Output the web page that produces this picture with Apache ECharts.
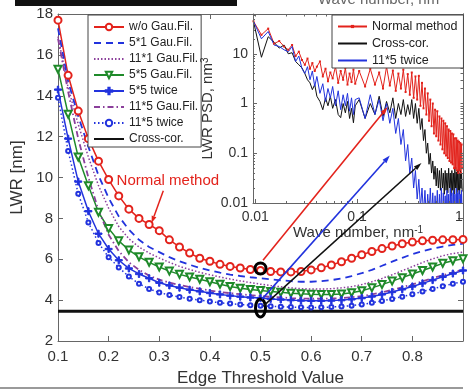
<!DOCTYPE html>
<html>
<head>
<meta charset="utf-8">
<script src="https://cdn.jsdelivr.net/npm/echarts@6/dist/echarts.min.js"></script>
<style>
html, body { margin: 0; padding: 0; background: #fff; }
#chart { width: 470px; height: 390px; }
</style>
</head>
<body>
<div id="chart"></div>
<script>
// main plot: LWR vs edge threshold
const threshold = [0.10, 0.12, 0.14, 0.16, 0.18, 0.20, 0.22, 0.24, 0.26, 0.28, 0.30, 0.32, 0.34, 0.36, 0.38, 0.40, 0.42, 0.44, 0.46, 0.48, 0.50,
  0.52, 0.54, 0.56, 0.58, 0.60, 0.62, 0.64, 0.66, 0.68, 0.70, 0.72, 0.74, 0.76, 0.78, 0.80, 0.82, 0.84, 0.86, 0.88, 0.90];
const woGau = [17.7, 15.0, 13.25, 11.9, 10.8, 9.9, 9.1, 8.45, 8.0, 7.7, 7.4, 6.95, 6.6, 6.3, 6.05, 5.9, 5.75, 5.65, 5.57, 5.5, 5.45,
  5.4, 5.38, 5.38, 5.4, 5.48, 5.58, 5.72, 5.88, 6.05, 6.22, 6.38, 6.52, 6.65, 6.76, 6.84, 6.9, 6.93, 6.95, 6.96, 6.97];
const gau5x1 = [17.3, 14.7, 13.0, 11.5, 10.1, 9.0, 8.1, 7.45, 6.95, 6.6, 6.35, 6.1, 5.9, 5.73, 5.58, 5.45, 5.34, 5.25, 5.18, 5.12, 5.07,
  5.02, 4.97, 4.93, 4.9, 4.9, 4.93, 4.98, 5.06, 5.18, 5.32, 5.48, 5.68, 5.88, 6.07, 6.25, 6.4, 6.52, 6.62, 6.7, 6.76];
const gau11x1 = [16.9, 14.4, 12.6, 11.0, 9.6, 8.5, 7.6, 7.0, 6.6, 6.3, 6.06, 5.85, 5.65, 5.5, 5.36, 5.24, 5.13, 5.03, 4.94, 4.86, 4.78,
  4.71, 4.65, 4.6, 4.56, 4.54, 4.54, 4.56, 4.6, 4.66, 4.76, 4.9, 5.06, 5.24, 5.44, 5.64, 5.84, 6.02, 6.17, 6.28, 6.35];
const gau5x5 = [15.3, 13.1, 11.0, 9.6, 8.3, 7.5, 6.9, 6.45, 6.12, 5.85, 5.62, 5.42, 5.26, 5.13, 5.02, 4.9, 4.78, 4.67, 4.58, 4.52, 4.47,
  4.42, 4.38, 4.34, 4.31, 4.29, 4.28, 4.28, 4.3, 4.36, 4.46, 4.6, 4.76, 4.93, 5.1, 5.28, 5.45, 5.62, 5.8, 5.93, 6.02];
const twice5x5 = [14.3, 11.9, 9.8, 8.35, 7.25, 6.5, 5.95, 5.55, 5.28, 5.07, 4.85, 4.72, 4.61, 4.51, 4.43, 4.35, 4.28, 4.22, 4.17, 4.13, 4.1,
  4.06, 4.03, 4.0, 3.98, 3.97, 3.97, 3.98, 4.0, 4.04, 4.1, 4.18, 4.28, 4.4, 4.53, 4.67, 4.82, 4.98, 5.14, 5.3, 5.45];
const gau11x5 = [16.8, 14.2, 11.9, 10.0, 8.4, 7.2, 6.4, 5.85, 5.48, 5.2, 5.0, 4.86, 4.74, 4.64, 4.55, 4.47, 4.4, 4.34, 4.29, 4.24, 4.2,
  4.16, 4.13, 4.1, 4.08, 4.07, 4.07, 4.08, 4.1, 4.14, 4.2, 4.28, 4.38, 4.5, 4.63, 4.77, 4.92, 5.07, 5.22, 5.36, 5.5];
const twice11x5 = [13.9, 11.3, 9.2, 7.8, 6.8, 6.1, 5.6, 5.15, 4.8, 4.55, 4.37, 4.25, 4.15, 4.07, 4.0, 3.93, 3.87, 3.83, 3.78, 3.75, 3.72,
  3.7, 3.68, 3.66, 3.65, 3.64, 3.65, 3.66, 3.69, 3.73, 3.79, 3.87, 3.96, 4.06, 4.17, 4.29, 4.42, 4.55, 4.68, 4.8, 4.9];
const crossCorX = [0.1, 0.9];
const crossCor = [3.45, 3.45];

// inset: LWR PSD vs wave number
const waveNumber = [0.0096, 0.0115, 0.0134, 0.0153, 0.0172, 0.0192, 0.0211, 0.023, 0.0249, 0.0268,
  0.0288, 0.0307, 0.0326, 0.0345, 0.0364, 0.0384, 0.0403, 0.0432, 0.0461, 0.049,
  0.0518, 0.0547, 0.0576, 0.0614, 0.0653, 0.0691, 0.073, 0.0768, 0.0806, 0.0845,
  0.0883, 0.0922, 0.096,
  0.105, 0.12, 0.135, 0.15, 0.165, 0.18, 0.195, 0.21, 0.225, 0.24,
  0.255, 0.27, 0.285, 0.3, 0.315, 0.33, 0.345, 0.36, 0.375, 0.39,
  0.405, 0.42, 0.435, 0.45, 0.465, 0.48, 0.495, 0.51, 0.525, 0.54,
  0.555, 0.57, 0.585, 0.6, 0.615, 0.63, 0.645, 0.66, 0.675, 0.69,
  0.705, 0.72, 0.735, 0.75, 0.765, 0.78, 0.795, 0.81, 0.825, 0.84,
  0.855, 0.87, 0.885, 0.9, 0.915, 0.93, 0.945, 0.96, 0.975, 0.99,
  1.005, 1.02, 1.035, 1.05, 1.065, 1.08];
const psdNormal = [45, 24, 32, 16, 18, 14, 12, 15, 9, 11,
  7.5, 6, 8, 5, 6.5, 4.5, 5.5, 7, 3.5, 5,
  2.8, 4.2, 3.2, 5.5, 2.6, 4.5, 3, 5.2, 2.4, 4,
  2.7, 4.8, 2.5,
  4.5, 2.2, 5.0, 2.4, 4.2, 2.0, 5.5, 2.3, 4.6, 1.8,
  4.0, 2.0, 4.8, 1.7, 3.9, 1.5, 4.2, 1.3, 3.5, 1.2,
  3.6, 0.9, 2.6, 0.8, 2.0, 0.6, 1.6, 0.45, 1.2, 0.35,
  1.0, 0.25, 0.75, 0.22, 0.7, 0.18, 0.55, 0.15, 0.5, 0.12,
  0.45, 0.1, 0.4, 0.09, 0.35, 0.08, 0.3, 0.07, 0.28, 0.065,
  0.25, 0.06, 0.24, 0.05, 0.2, 0.05, 0.2, 0.045, 0.18, 0.04,
  0.17, 0.045, 0.16, 0.04, 0.15, 0.05];
const psdCrossCor = [45, 8.5, 22, 17, 13, 15, 10, 10.5, 7, 6,
  5.2, 4, 3, 2.6, 1.9, 2.4, 1.4, 1.1, 0.75, 1.3,
  0.9, 1.4, 0.8, 1.2, 0.6, 0.52, 1.0, 0.65, 1.1, 0.5,
  0.8, 0.41, 0.9,
  1.2, 0.5, 1.0, 0.6, 1.4, 0.55, 1.1, 0.65, 1.3, 0.5,
  1.0, 0.6, 1.2, 0.55, 0.95, 0.6, 1.2, 0.5, 1.0, 0.4,
  0.8, 0.3, 0.5, 0.18, 0.3, 0.1, 0.16, 0.06, 0.1, 0.04,
  0.07, 0.03, 0.055, 0.022, 0.05, 0.02, 0.045, 0.018, 0.05, 0.02,
  0.04, 0.015, 0.045, 0.018, 0.04, 0.016, 0.05, 0.02, 0.04, 0.014,
  0.045, 0.018, 0.04, 0.015, 0.05, 0.02, 0.042, 0.016, 0.045, 0.018,
  0.04, 0.015, 0.045, 0.02, 0.04, 0.017];
const psdTwice11x5 = [45, 20, 28, 15, 14, 12, 11, 14, 7, 9,
  5, 4, 5.5, 3, 4.5, 2.2, 3.5, 1.6, 2.5, 1.1,
  2.0, 1.3, 2.2, 0.9, 1.8, 0.75, 1.5, 0.9, 1.6, 0.7,
  1.3, 0.6, 1.2,
  1.3, 0.5, 1.5, 0.6, 1.2, 0.45, 1.0, 0.4, 0.8, 0.25,
  0.5, 0.15, 0.3, 0.07, 0.15, 0.04, 0.08, 0.02, 0.045, 0.012,
  0.03, 0.008, 0.02, 0.006, 0.018, 0.005, 0.015, 0.006, 0.02, 0.005,
  0.016, 0.004, 0.014, 0.005, 0.018, 0.004, 0.015, 0.005, 0.02, 0.004,
  0.016, 0.005, 0.014, 0.004, 0.018, 0.005, 0.015, 0.004, 0.02, 0.005,
  0.016, 0.004, 0.018, 0.005, 0.015, 0.004, 0.02, 0.005, 0.016, 0.004,
  0.018, 0.005, 0.015, 0.004, 0.018, 0.005];

const psdXMajor = [0.01, 0.1, 1];
const psdXMinor = [0.02, 0.03, 0.04, 0.05, 0.06, 0.07, 0.08, 0.09, 0.2, 0.3, 0.4, 0.5, 0.6, 0.7, 0.8, 0.9];
const psdYMajor = [0.01, 0.1, 1, 10];
const psdYMinor = [0.02, 0.03, 0.04, 0.05, 0.06, 0.07, 0.08, 0.09, 0.2, 0.3, 0.4, 0.5, 0.6, 0.7, 0.8, 0.9,
  2, 3, 4, 5, 6, 7, 8, 9, 20, 30, 40, 50, 60];

// annotations, in data coordinates
const markedPoints = [[0.5, 5.55], [0.5, 3.62]];
const insetArrows = [
  { from: [0.505, 5.95], to: [0.2, 0.85], color: '#e3231c' },
  { from: [0.503, 4.05], to: [0.21, 0.09], color: '#2233dd' },
  { from: [0.506, 3.72], to: [0.43, 0.064], color: '#111111' }
];
const normalLabelAt = [0.317, 9.86];
const normalArrow = { from: [0.308, 9.35], to: [0.285, 7.78] };

const RED = '#e3231c', BLUE = '#2233dd', GREEN = '#1f8a2a', PURPLE = '#8b3f9b', BLACK = '#111111';
const AXIS = '#666666', TEXT = '#333333';
const font = '"Liberation Sans", Arial, sans-serif';
const plus = 'path://M4,0h2v10h-2zM0,4h10v2h-10z';

const chart = echarts.init(document.getElementById('chart'));

const pairs = (xs, ys) => xs.map((x, i) => [x, ys[i]]);

function mainSeries(name, ys, color, lineType, width, symbol, size, extra) {
  return Object.assign({
    name: name, type: 'line', xAxisIndex: 0, yAxisIndex: 0,
    data: pairs(threshold, ys),
    symbol: symbol || 'none', symbolSize: size || 0, showSymbol: !!symbol,
    lineStyle: { color: color, width: width, type: lineType },
    itemStyle: { color: color, borderColor: color, borderWidth: 1 },
    z: 2
  }, extra || {});
}

function insetSeries(name, ys, color, extra) {
  return Object.assign({
    name: name, type: 'line', xAxisIndex: 2, yAxisIndex: 2,
    data: pairs(waveNumber, ys),
    symbol: 'none', showSymbol: false,
    lineStyle: { color: color, width: 1 },
    itemStyle: { color: color },
    zlevel: 1, z: 3, clip: true
  }, extra || {});
}

// legend entry with the line only (no marker)
const hideMarker = { color: 'rgba(0,0,0,0)', borderColor: 'rgba(0,0,0,0)', borderWidth: 0, opacity: 0 };
const lineOnly = name => ({ name: name, itemStyle: hideMarker });

const tickStyle = { color: AXIS, width: 1 };

const option = {
  animation: false,
  backgroundColor: '#fff',
  textStyle: { fontFamily: font },
  grid: [
    { left: 58, top: 14, right: 7, bottom: 49, outerBoundsMode: 'none' },
    { left: 253, top: 14, right: 7, height: 189, show: true, backgroundColor: '#fff', borderWidth: 0, zlevel: 1, z: 0, outerBoundsMode: 'none' }
  ],
  legend: [
    {
      data: ['w/o Gau.Fil.', lineOnly('5*1 Gau.Fil.'), lineOnly('11*1 Gau.Fil.'), '5*5 Gau.Fil.', '5*5 twice',
        lineOnly('11*5 Gau.Fil.'), '11*5 twice', lineOnly('Cross-cor.')],
      orient: 'vertical', left: 88, top: 15, itemWidth: 30, itemHeight: 8, itemGap: 4,
      padding: [6, 3, 2, 5], backgroundColor: '#fff', borderColor: '#444', borderWidth: 1,
      textStyle: { fontSize: 12, color: '#222', fontFamily: font }, selectedMode: false, z: 6
    },
    {
      data: ['Normal method', lineOnly('Cross-cor. '), lineOnly('11*5 twice ')],
      orient: 'vertical', left: 332, top: 15, itemWidth: 29, itemHeight: 4, itemGap: 4,
      padding: [5, 6, 1, 5], backgroundColor: '#fff', borderColor: '#444', borderWidth: 1,
      textStyle: { fontSize: 12.5, color: '#222', fontFamily: font }, selectedMode: false, zlevel: 1, z: 10
    }
  ],
  xAxis: [
    {
      type: 'value', gridIndex: 0, position: 'bottom', min: 0.1, max: 0.9, interval: 0.1,
      axisLine: { show: true, onZero: false, lineStyle: tickStyle },
      axisTick: { show: true, inside: true, length: 5, lineStyle: tickStyle },
      axisLabel: { fontSize: 15, color: TEXT, margin: 8, formatter: v => (v > 0.85 ? '' : v.toFixed(1)) },
      splitLine: { show: false },
      name: 'Edge Threshold Value', nameLocation: 'middle', nameGap: 29,
      nameTextStyle: { fontSize: 17, color: TEXT }
    },
    {
      type: 'value', gridIndex: 0, position: 'top', min: 0.1, max: 0.9, interval: 0.1,
      axisLine: { show: true, onZero: false, lineStyle: tickStyle },
      axisTick: { show: true, inside: true, length: 5, lineStyle: tickStyle },
      axisLabel: { show: false }, splitLine: { show: false }
    },
    {
      type: 'log', gridIndex: 1, position: 'bottom', min: 0.0095, max: 1.1,
      axisLine: { show: true, onZero: false, lineStyle: tickStyle },
      axisTick: { show: true, inside: true, length: 4, customValues: psdXMajor, lineStyle: tickStyle },
      axisLabel: { fontSize: 14, color: TEXT, margin: 7, customValues: psdXMajor, formatter: v => String(v) },
      splitLine: { show: false },
      name: 'Wave number, nm{sup|-1}', nameLocation: 'middle', nameGap: 21,
      nameTextStyle: { fontSize: 15, color: TEXT, rich: { sup: { fontSize: 10, color: TEXT, verticalAlign: 'top', padding: [0, 0, 6, 0] } } },
      zlevel: 1, z: 4
    },
    {
      type: 'log', gridIndex: 1, position: 'bottom', min: 0.0095, max: 1.1,
      axisLine: { show: false },
      axisTick: { show: true, inside: true, length: 2, customValues: psdXMinor, lineStyle: tickStyle },
      axisLabel: { show: false }, splitLine: { show: false }, zlevel: 1, z: 4
    },
    {
      type: 'log', gridIndex: 1, position: 'top', min: 0.0095, max: 1.1,
      axisLine: { show: true, onZero: false, lineStyle: tickStyle },
      axisTick: { show: true, inside: true, length: 2.5, customValues: psdXMajor.concat(psdXMinor), lineStyle: tickStyle },
      axisLabel: { show: false }, splitLine: { show: false }, zlevel: 1, z: 4
    }
  ],
  yAxis: [
    {
      type: 'value', gridIndex: 0, position: 'left', min: 2, max: 18, interval: 2,
      axisLine: { show: true, onZero: false, lineStyle: tickStyle },
      axisTick: { show: true, inside: true, length: 5, lineStyle: tickStyle },
      axisLabel: { fontSize: 15, color: TEXT, margin: 5 },
      splitLine: { show: false },
      name: 'LWR [nm]', nameLocation: 'middle', nameGap: 27,
      nameTextStyle: { fontSize: 17, color: TEXT }
    },
    {
      type: 'value', gridIndex: 0, position: 'right', min: 2, max: 18, interval: 2,
      axisLine: { show: true, onZero: false, lineStyle: tickStyle },
      axisTick: { show: true, inside: true, length: 5, lineStyle: tickStyle },
      axisLabel: { show: false }, splitLine: { show: false }
    },
    {
      type: 'log', gridIndex: 1, position: 'left', min: 0.01, max: 63,
      axisLine: { show: true, onZero: false, lineStyle: tickStyle },
      axisTick: { show: true, inside: true, length: 4, customValues: psdYMajor, lineStyle: tickStyle },
      axisLabel: { fontSize: 14, color: TEXT, margin: 5, customValues: psdYMajor, formatter: v => String(v) },
      splitLine: { show: false },
      name: 'LWR PSD, nm{sup|3}', nameLocation: 'middle', nameGap: 37,
      nameTextStyle: { fontSize: 15, color: TEXT, rich: { sup: { fontSize: 10, color: TEXT, verticalAlign: 'top', padding: [0, 0, 6, 0] } } },
      zlevel: 1, z: 4
    },
    {
      type: 'log', gridIndex: 1, position: 'left', min: 0.01, max: 63,
      axisLine: { show: false },
      axisTick: { show: true, inside: true, length: 2, customValues: psdYMinor, lineStyle: tickStyle },
      axisLabel: { show: false }, splitLine: { show: false }, zlevel: 1, z: 4
    },
    {
      type: 'log', gridIndex: 1, position: 'right', min: 0.01, max: 63,
      axisLine: { show: true, onZero: false, lineStyle: tickStyle },
      axisTick: { show: true, inside: true, length: 2.5, customValues: psdYMajor.concat(psdYMinor), lineStyle: tickStyle },
      axisLabel: { show: false }, splitLine: { show: false }, zlevel: 1, z: 4
    }
  ],
  series: [
    mainSeries('w/o Gau.Fil.', woGau, RED, 'solid', 1.5, 'emptyCircle', 7),
    mainSeries('5*1 Gau.Fil.', gau5x1, BLUE, [7, 5], 1.8),
    mainSeries('11*1 Gau.Fil.', gau11x1, PURPLE, [1.5, 2], 1.5),
    mainSeries('5*5 Gau.Fil.', gau5x5, GREEN, 'solid', 1.5, 'emptyTriangle', 7, { symbolRotate: 180 }),
    mainSeries('5*5 twice', twice5x5, BLUE, 'solid', 1.5, plus, 7),
    mainSeries('11*5 Gau.Fil.', gau11x5, PURPLE, [6, 3, 1.5, 3], 1.8),
    mainSeries('11*5 twice', twice11x5, BLUE, [1.5, 2.5], 1.5, 'emptyCircle', 4),
    {
      name: 'Cross-cor.', type: 'line', xAxisIndex: 0, yAxisIndex: 0,
      data: pairs(crossCorX, crossCor), symbol: 'none', showSymbol: false,
      lineStyle: { color: BLACK, width: 3 }, itemStyle: { color: BLACK }, z: 2
    },
    insetSeries('Normal method', psdNormal, RED, { symbol: 'rect', symbolSize: 2, showSymbol: true }),
    insetSeries('Cross-cor. ', psdCrossCor, BLACK),
    insetSeries('11*5 twice ', psdTwice11x5, BLUE)
  ]
};

chart.setOption(option);

// overlays placed through the axes' own conversions
const mainPx = p => chart.convertToPixel({ xAxisIndex: 0, yAxisIndex: 0 }, p);
const insetPx = p => chart.convertToPixel({ xAxisIndex: 2, yAxisIndex: 2 }, p);

function arrow(p0, p1, color, width, hl, hw, zlevel) {
  const a = Math.atan2(p1[1] - p0[1], p1[0] - p0[0]);
  const bx = p1[0] - hl * Math.cos(a), by = p1[1] - hl * Math.sin(a);
  const nx = -Math.sin(a) * hw / 2, ny = Math.cos(a) * hw / 2;
  return [
    { type: 'line', zlevel: zlevel, z: 100, shape: { x1: p0[0], y1: p0[1], x2: bx, y2: by }, style: { stroke: color, lineWidth: width } },
    { type: 'polygon', zlevel: zlevel, z: 100, shape: { points: [[p1[0], p1[1]], [bx + nx, by + ny], [bx - nx, by - ny]] }, style: { fill: color } }
  ];
}

const graphics = [];
// cropped strip of the figure above
graphics.push({ type: 'rect', left: 15, top: 0, shape: { width: 222, height: 6 }, style: { fill: '#111' }, z: 100 });
graphics.push({ type: 'text', x: 318, y: 0, style: { text: 'Wave number, nm', fill: '#666', font: '15px ' + font, textAlign: 'left', textVerticalAlign: 'middle', align: 'left', verticalAlign: 'middle' }, z: 100 });
graphics.push({ type: 'line', shape: { x1: 0, y1: 388, x2: 463, y2: 388 }, style: { stroke: '#9a9a9a', lineWidth: 2 }, z: 100 });

// marked points
const c0 = mainPx(markedPoints[0]);
const c1 = mainPx(markedPoints[1]);
graphics.push({ type: 'ellipse', shape: { cx: c0[0], cy: c0[1], rx: 5.5, ry: 5.5 }, style: { fill: 'none', stroke: '#000', lineWidth: 3 }, z: 100 });
graphics.push({ type: 'ellipse', shape: { cx: c1[0], cy: c1[1], rx: 5, ry: 9 }, style: { fill: 'none', stroke: '#000', lineWidth: 3 }, z: 100 });

// "Normal method" callout
const lab = mainPx(normalLabelAt);
graphics.push({ type: 'text', x: lab[0], y: lab[1], z: 100, style: { text: 'Normal method', fill: RED, font: '15px ' + font, textAlign: 'center', textVerticalAlign: 'middle', align: 'center', verticalAlign: 'middle' } });
graphics.push.apply(graphics, arrow(mainPx(normalArrow.from), mainPx(normalArrow.to), RED, 1.5, 7, 5, 0));

// arrows from the main plot to the inset spectra
insetArrows.forEach(a => {
  graphics.push.apply(graphics, arrow(mainPx(a.from), insetPx(a.to), a.color, 1.6, 8, 5, 2));
});

chart.setOption({ graphic: graphics });
</script>
</body>
</html>
